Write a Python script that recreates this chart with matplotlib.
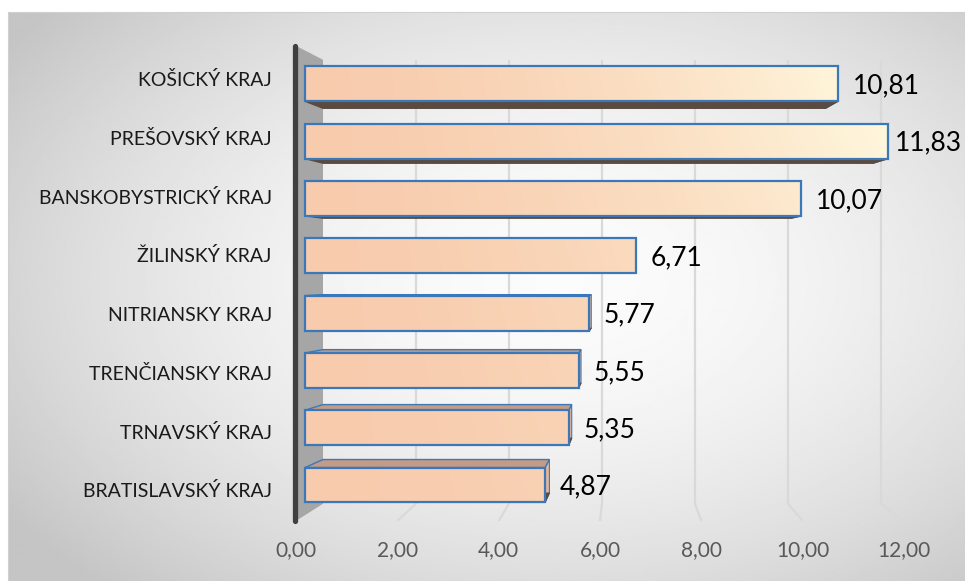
import numpy as np
import matplotlib
matplotlib.use("Agg")
import matplotlib.pyplot as plt
from matplotlib.patches import Polygon, Rectangle

# ---- data -------------------------------------------------------------
regions = ["BRATISLAVSKÝ KRAJ", "TRNAVSKÝ KRAJ", "TRENČIANSKY KRAJ",
           "NITRIANSKY KRAJ", "ŽILINSKÝ KRAJ", "BANSKOBYSTRICKÝ KRAJ",
           "PREŠOVSKÝ KRAJ", "KOŠICKÝ KRAJ"]
values = [4.87, 5.35, 5.55, 5.77, 6.71, 10.07, 11.83, 10.81]
x_ticks = [0, 2, 4, 6, 8, 10, 12]
x_tick_labels = ["0,00", "2,00", "4,00", "6,00", "8,00", "10,00", "12,00"]

plt.rcParams["font.family"] = ["Lato", "DejaVu Sans"]

# ---- canvas / scales ----------------------------------------------------
W, H, DPI = 965, 581, 100
fig = plt.figure(figsize=(W / DPI, H / DPI), dpi=DPI)
fig.patch.set_facecolor("white")
ax = fig.add_axes([0, 0, 1, 1])
ax.set_autoscale_on(False)

X0, KX = 305.0, 49.3     # pixel of value 0 and pixels per unit (bar front plane)
Y0, KY = 485.0, 57.3     # pixel row of category 0 and pixels per category
ax.set_xlim(-X0 / KX, (W - X0) / KX)
ax.set_ylim((Y0 - H) / KY, Y0 / KY)
ax.axis("off")


def px(p):
    return (p - X0) / KX


def py(p):
    return (Y0 - p) / KY


# oblique projection of the 3-D box: front (floor edge) and back (wall) planes
def fx(v):
    return -0.183 + 1.028 * v


def fy(y):
    return -0.113 + 1.026 * y


def bx(v):
    return 0.365 + 0.943 * v


def by(y):
    return 0.152 + 0.959 * y


Y_LO, Y_HI = -0.5, 7.58

# ---- chart-area background (radial grey gradient) -------------------------
gx, gy = np.meshgrid(np.arange(8, W + 1, 2.0), np.arange(12, H + 1, 2.0))
r = np.sqrt(((gx - 560) / 480.0) ** 2 + ((gy - 280) / 300.0) ** 2)
shade = 0.985 - 0.215 * np.clip(r / 1.4, 0, 1) ** 1.8
ax.imshow(shade, cmap="gray", vmin=0, vmax=1, extent=[px(8), px(W), py(H), py(12)],
          origin="upper", aspect="auto", interpolation="bilinear", zorder=0)
ax.add_patch(Rectangle((px(8), py(H)), px(W) - px(8), py(12) - py(H),
                       facecolor="none", edgecolor="#d0d0d0", lw=0.8, zorder=0.5))

# ---- gridlines on back wall and floor -----------------------------------
for v in x_ticks[1:]:
    ax.plot([bx(v), bx(v)], [by(Y_LO), by(Y_HI)], color="#d9d9d9", lw=1.6,
            zorder=1.5, solid_capstyle="butt")
    ax.plot([bx(v), fx(v)], [by(Y_LO), fy(Y_LO)], color="#d9d9d9", lw=1.6,
            zorder=1.5, solid_capstyle="butt")

# ---- side wall --------------------------------------------------------------
ax.add_patch(Polygon([(fx(0), fy(Y_LO)), (fx(0), fy(Y_HI)), (bx(0), by(Y_HI)),
                      (bx(0), by(Y_LO))], closed=True, facecolor="#a6a6a6",
                     edgecolor="none", zorder=2))
ax.plot([fx(0) - 0.01, fx(0) - 0.01], [fy(Y_LO), fy(Y_HI)], color="#404040",
        lw=3.8, solid_capstyle="round", zorder=3)

# ---- bars ---------------------------------------------------------------
BAR_H = 0.61
EDGE = "#3b78b9"
ys = np.arange(len(regions))

for i, v in zip(ys, values):
    yb, yt = i - BAR_H / 2, i + BAR_H / 2
    # right end
    ax.add_patch(Polygon([(v, yb), (v, yt), (bx(v), by(yt)), (bx(v), by(yb))],
                         closed=True, facecolor="#e6b698", edgecolor=EDGE,
                         lw=0.8, zorder=4))
    # top face
    ax.add_patch(Polygon([(0, yt), (v, yt), (bx(v), by(yt)), (bx(0), by(yt))],
                         closed=True, facecolor="#c49b86", edgecolor=EDGE,
                         lw=1.0, zorder=4.1))
    # underside
    ax.add_patch(Polygon([(0, yb), (v, yb), (bx(v), by(yb)), (bx(0), by(yb))],
                         closed=True, facecolor="#5a4a40", edgecolor="#5a4a40",
                         lw=0.8, zorder=4.1))

bars = ax.barh(ys, values, height=BAR_H, left=0, color="none",
               edgecolor=EDGE, linewidth=1.6, zorder=5)

# peach-to-cream fill of the front faces
gv, gyy = np.meshgrid(np.linspace(0, 12.2, 400), np.linspace(-0.5, 7.5, 200))
t = np.clip((gv / 12.0) ** 1.5 * (0.5 + 0.08 * gyy), 0, 1)[..., None]
c0 = np.array([248, 203, 173]) / 255.0
c1 = np.array([255, 248, 222]) / 255.0
fill = c0 + (c1 - c0) * t
for b in bars:
    im = ax.imshow(fill, extent=[0, 12.2, -0.5, 7.5], origin="lower",
                   aspect="auto", interpolation="bilinear", zorder=4.5)
    im.set_clip_path(b)

# ---- text ---------------------------------------------------------------
for v, lab in zip(x_ticks, x_tick_labels):
    ax.text(fx(v), py(550.5), lab, ha="center", va="center", fontsize=15,
            color="#595959", zorder=6)

for i, name in zip(ys, regions):
    ax.text(fx(0) - 0.49, fy(i), name, ha="right", va="center", fontsize=14,
            color="#1a1a1a", zorder=6)

value_labels = []
for i, v in zip(ys, values):
    txt = f"{v:.2f}".replace(".", ",")
    a = ax.annotate(txt, xy=(v, i), xytext=(10.5, -1.5), textcoords="offset points",
                    ha="left", va="center", fontsize=19, color="black", zorder=6)
    value_labels.append(a)

# keep value labels inside the chart area
fig.canvas.draw()
for a in value_labels:
    bb = a.get_window_extent()
    over = bb.x1 - (W - 3)
    if over > 0:
        ox, oy = a.xyann
        a.xyann = (ox - over * 72.0 / DPI, oy)

fig.savefig("out.png", dpi=DPI, facecolor="white")
